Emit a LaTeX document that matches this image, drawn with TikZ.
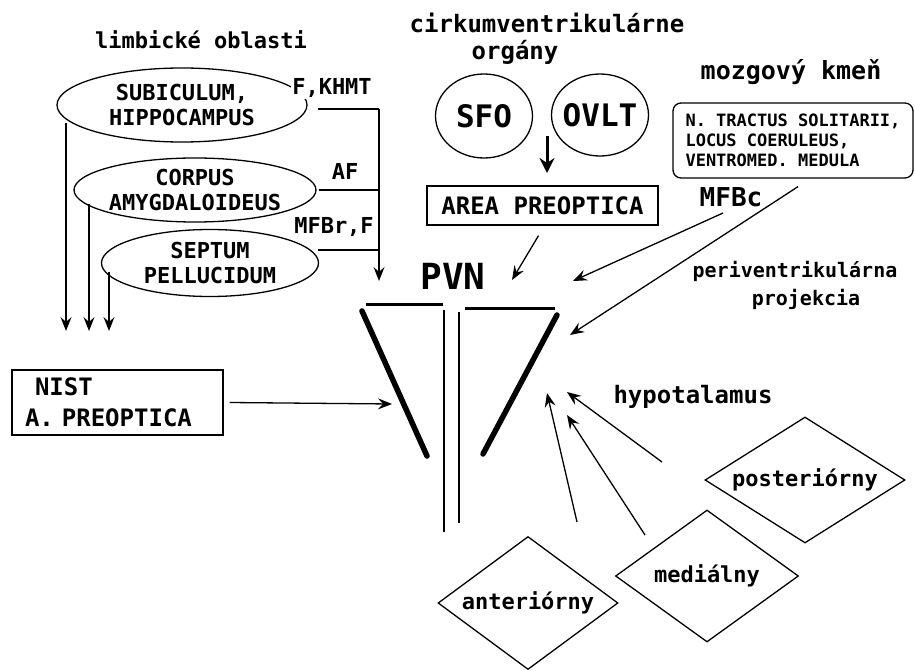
\documentclass[tikz,border=0pt]{standalone}
\usepackage{fontspec}
\setmainfont{DejaVu Sans Mono}
\usetikzlibrary{shapes.geometric,arrows.meta}
\newcommand\tsz[2]{\fontsize{#1}{#2}\selectfont\bfseries}
\tikzset{
 lbl/.style={inner sep=0pt, font=\tsz{22}{25}},
 thinl/.style={line width=1.3pt},
 arr/.style={thinl, -{Stealth[length=14pt,width=11pt,inset=5pt]}},
 oval/.style={ellipse, draw, thinl, inner sep=-4pt, align=center, font=\tsz{22}{25}},
 box/.style={rectangle, draw, thinl, inner sep=0pt},
 dia/.style={diamond, draw, thinl, inner sep=0pt, font=\tsz{22}{25}},
 pvnbar/.style={line width=3pt},
 pvnwall/.style={line width=5.5pt, line cap=round},
 pvnmid/.style={line width=1.3pt},
}
\begin{document}
\begin{tikzpicture}[x=1pt,y=-1pt]
\fill[white] (0,0) rectangle (915,671);
\useasboundingbox (0,0) rectangle (915,671);

% limbic regions
\node[lbl] (limb) at (201,40) {limbické oblasti};
\node[oval, minimum width=250pt, minimum height=74pt] (sub) at (182,105) {SUBICULUM,\\HIPPOCAMPUS};
\node[oval, minimum width=242pt, minimum height=64pt] (cor) at (195,190) {CORPUS\\AMYGDALOIDEUS};
\node[oval, minimum width=217pt, minimum height=67pt] (sep) at (210,263) {SEPTUM\\PELLUCIDUM};
\node[lbl, fill=white, inner sep=1pt] (fkhmt) at (332,88) {F,KHMT};
\node[lbl] (af) at (345,171) {AF};
\node[lbl] (mfbr) at (334,227) {MFBr,F};

\coordinate (jA) at (379,109);
\coordinate (jB) at (379,190);
\coordinate (jC) at (379,250);
\coordinate (pvnL) at (379,281);
\draw[thinl] ([xshift=10pt,yshift=-4pt]sub.east) -- (jA);
\draw[arr] (jA) -- (pvnL);
\draw[thinl] ([xshift=2pt]cor.east) -- (jB);
\draw[thinl] ([xshift=-1pt,yshift=13pt]sep.east) -- (jC);

% arrows down to NIST
\coordinate (lvl) at (0,331);
\coordinate (sA) at ([xshift=-116pt,yshift=-18pt]sub.center);
\coordinate (sB) at ([xshift=-106pt,yshift=-14pt]cor.center);
\coordinate (sC) at ([xshift=-101pt,yshift=-9pt]sep.center);
\draw[arr] (sA) -- (sA |- lvl);
\draw[arr] (sB) -- (sB |- lvl);
\draw[arr] (sC) -- (sC |- lvl);

\node[box, minimum width=211pt, minimum height=65pt, text width=185pt, align=left, font=\tsz{24}{31}] (nist) at (117.5,402.5) {\hspace*{10pt}NIST\\A. PREOPTICA};
\coordinate (pvnW) at (392,404);
\draw[arr] ([xshift=6pt]nist.east) -- (pvnW);

% circumventricular organs
\node[lbl, font=\tsz{24}{24}] (cirk) at (547,23) {cirkumventrikulárne};
\node[lbl, font=\tsz{24}{24}] (org) at (515,52) {orgány};
\node[oval, inner sep=-6pt, minimum width=97pt, minimum height=84pt, font=\tsz{31}{31}] (sfo) at (484,116) {SFO};
\node[oval, inner sep=-6pt, minimum width=97pt, minimum height=82pt, font=\tsz{31}{31}] (ovlt) at (600,115) {OVLT};
\node[box, minimum width=231pt, minimum height=39pt, font=\tsz{24}{24}] (area) at (542.5,205.5) {AREA PREOPTICA};
\coordinate (cvo) at (547,136);
\coordinate (cvoTip) at (547,173);
\draw[line width=3pt, -{Stealth[length=15pt,width=15pt,inset=5pt]}] (cvo) -- (cvoTip);
\coordinate (pvnTop) at (512,280);
\draw[arr] ([xshift=-4pt,yshift=-10pt]area.south) -- (pvnTop);

% brainstem
\node[lbl, font=\tsz{25}{25}] (mk) at (791,72) {mozgový kmeň};
\node[box, rounded corners=8pt, minimum width=240pt, minimum height=75pt, align=left, font=\tsz{17}{20}] (bs) at (793,140.5) {N. TRACTUS SOLITARII,\\LOCUS COERULEUS,\\VENTROMED. MEDULA};
\node[lbl, font=\tsz{26}{26}] (mfbc) at (731,197) {MFBc};
\coordinate (pvnNE) at (573,281);
\coordinate (pvnE) at (570,335);
\draw[arr] ([xshift=-8pt,yshift=-16pt]mfbc.center) -- (pvnNE);
\draw[arr] ([xshift=5pt,yshift=-8pt]bs.south) -- (pvnE);
\node[lbl, font=\tsz{20}{20}] (peri) at (795,271) {periventrikulárna};
\node[lbl, font=\tsz{20}{20}] (proj) at (806,299) {projekcia};

% PVN
\node[lbl, font=\tsz{36}{36}] (pvn) at (453,276) {PVN};
\draw[pvnbar] (366,304) -- (443,304);
\draw[pvnbar] (465,308) -- (555,308);
\draw[pvnwall] (362,311) -- (427,456);
\draw[pvnwall] (557,315) -- (483,454);
\draw[pvnmid] (444,310) -- (444,532);
\draw[pvnmid] (459,312) -- (459,523);

% hypothalamus
\node[lbl, font=\tsz{24}{24}] (hyp) at (693,397) {hypotalamus};
\node[dia, aspect=1.6, minimum width=200pt, minimum height=126pt] (post) at (805,480) {posteriórny};
\node[dia, aspect=1.4, minimum width=183pt, minimum height=132pt] (med) at (707,576) {mediálny};
\node[dia, aspect=1.35, minimum width=180pt, minimum height=133pt] (ant) at (528,603) {anteriórny};
\coordinate (tA) at (577,522);
\coordinate (tM) at (645,535);
\coordinate (tP) at (662,462);
\coordinate (hA) at (547,393);
\coordinate (hM) at (567,415);
\coordinate (hP) at (567,392);
\draw[arr] (tA) -- (hA);
\draw[arr] (tM) -- (hM);
\draw[arr] (tP) -- (hP);
\end{tikzpicture}
\end{document}
